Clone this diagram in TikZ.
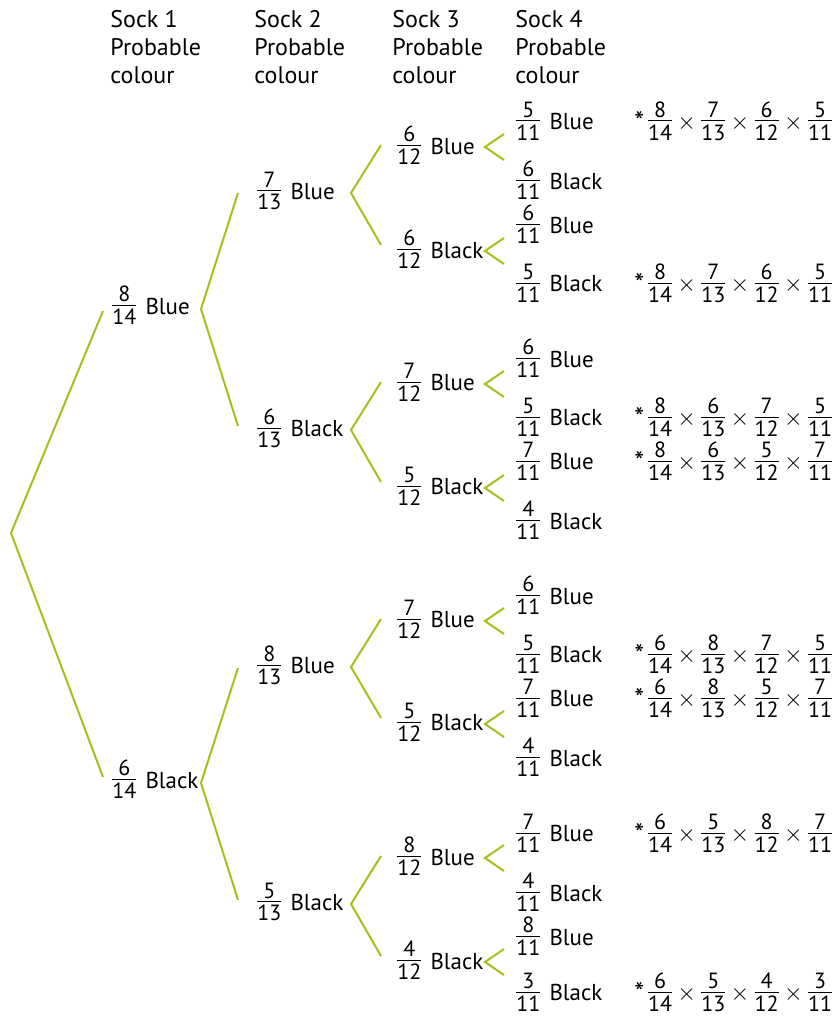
\documentclass[12pt,tikz,border=0pt]{standalone}
\usepackage{fontspec}
\setmainfont{PT Sans}
\usetikzlibrary{calc}

\definecolor{branchgreen}{RGB}{169,189,31}

% fraction with text digits
\newcommand{\fr}[2]{\raisebox{1.5pt}{$\nulldelimiterspace=0pt\frac{\mbox{\fontsize{11}{11}\selectfont\rule[-1.2pt]{0pt}{1pt}#1}}{\mbox{\fontsize{11}{11}\selectfont\rule{0pt}{9pt}#2}}$}}
% fraction followed by a colour
\newcommand{\pick}[3]{\fr{#1}{#2}\hspace{1.5pt} #3}
% product of the four draws
\newcommand{\tms}{${}\times{}$}
\newcommand{\chain}[4]{\raisebox{-1pt}{\fontsize{14}{14}\selectfont *}\,\fr{#1}{14}\tms\fr{#2}{13}\tms\fr{#3}{12}\tms\fr{#4}{11}}

\begin{document}
\begin{tikzpicture}[x=0.5pt,y=-0.5pt,
    lbl/.style={anchor=west,inner sep=0pt,font=\fontsize{11.5}{14}\selectfont},
    head/.style={anchor=north west,inner sep=0pt,align=left,font=\fontsize{12}{14}\selectfont},
    branch/.style={draw=branchgreen,line width=1pt}]

    \useasboundingbox (0,0) rectangle (835,1016);

    % Headings
    \node[head] (h1) at (110,10) {Sock 1\\Probable\\colour};
    \node[head] (h2) at (254,10) {Sock 2\\Probable\\colour};
    \node[head] (h3) at (392,10) {Sock 3\\Probable\\colour};
    \node[head] (h4) at (515,10) {Sock 4\\Probable\\colour};

    % Sock 1
    \coordinate (root) at (11,533);
    \node[lbl] (b) at (112,305) {\pick{8}{14}{Blue}};
    \node[lbl] (k) at (112,779) {\pick{6}{14}{Black}};
    \draw[branch] ($(b.west)+(-9,6)$) -- (root) -- ($(k.west)+(-9,-2)$);

    % Sock 2
    \node[lbl] (bb) at (257,191) {\pick{7}{13}{Blue}};
    \node[lbl] (bk) at (257,428) {\pick{6}{13}{Black}};
    \node[lbl] (kb) at (257,665) {\pick{8}{13}{Blue}};
    \node[lbl] (kk) at (257,902) {\pick{5}{13}{Black}};
    \coordinate (fb) at ($(b.west)+(89,4)$);
    \coordinate (fk) at ($(k.west)+(89,4)$);
    \draw[branch] ($(bb.west)+(-19,2)$) -- (fb) -- ($(bk.west)+(-19,-2)$);
    \draw[branch] ($(kb.west)+(-19,3)$) -- (fk) -- ($(kk.west)+(-19,-2)$);

    % Sock 3
    \node[lbl] (bbb) at (397,145) {\pick{6}{12}{Blue}};
    \node[lbl] (bbk) at (397,249) {\pick{6}{12}{Black}};
    \node[lbl] (bkb) at (397,382) {\pick{7}{12}{Blue}};
    \node[lbl] (bkk) at (397,486) {\pick{5}{12}{Black}};
    \node[lbl] (kbb) at (397,619) {\pick{7}{12}{Blue}};
    \node[lbl] (kbk) at (397,722) {\pick{5}{12}{Black}};
    \node[lbl] (kkb) at (397,856) {\pick{8}{12}{Blue}};
    \node[lbl] (kkk) at (397,960) {\pick{4}{12}{Black}};
    \foreach \p/\u/\d in {bb/bbb/bbk, bk/bkb/bkk, kb/kbb/kbk, kk/kkb/kkk}
        \draw[branch] ($(\u.west)+(-16,0)$) -- ($(\p.west)+(94,2)$) -- ($(\d.west)+(-16,-4)$);

    % Sock 4
    \foreach \n/\y/\a/\c in {bbbb/121/5/Blue, bbbk/180/6/Black,
            bbkb/224/6/Blue, bbkk/283/5/Black,
            bkbb/358/6/Blue, bkbk/417/5/Black,
            bkkb/461/7/Blue, bkkk/520/4/Black,
            kbbb/595/6/Blue, kbbk/654/5/Black,
            kbkb/698/7/Blue, kbkk/757/4/Black,
            kkbb/833/7/Blue, kkbk/892/4/Black,
            kkkb/936/8/Blue, kkkk/992/3/Black}
        \node[lbl] (\n) at (516,\y) {\pick{\a}{11}{\c}};
    \foreach \n in {bbb,bbk,bkb,bkk,kbb,kbk,kkb,kkk}
        \draw[branch] ($(\n.west)+(107,-11)$) -- ($(\n.west)+(88,2)$) -- ($(\n.west)+(107,15)$);

    % Products
    \node[lbl] (p1) at ($(bbbb.west)+(118,0)$) {\chain{8}{7}{6}{5}};
    \node[lbl] (p2) at ($(bbkk.west)+(118,0)$) {\chain{8}{7}{6}{5}};
    \node[lbl] (p3) at ($(bkbk.west)+(118,0)$) {\chain{8}{6}{7}{5}};
    \node[lbl] (p4) at ($(bkkb.west)+(118,0)$) {\chain{8}{6}{5}{7}};
    \node[lbl] (p5) at ($(kbbk.west)+(118,0)$) {\chain{6}{8}{7}{5}};
    \node[lbl] (p6) at ($(kbkb.west)+(118,0)$) {\chain{6}{8}{5}{7}};
    \node[lbl] (p7) at ($(kkbb.west)+(118,0)$) {\chain{6}{5}{8}{7}};
    \node[lbl] (p8) at ($(kkkk.west)+(118,0)$) {\chain{6}{5}{4}{3}};

\end{tikzpicture}
\end{document}
